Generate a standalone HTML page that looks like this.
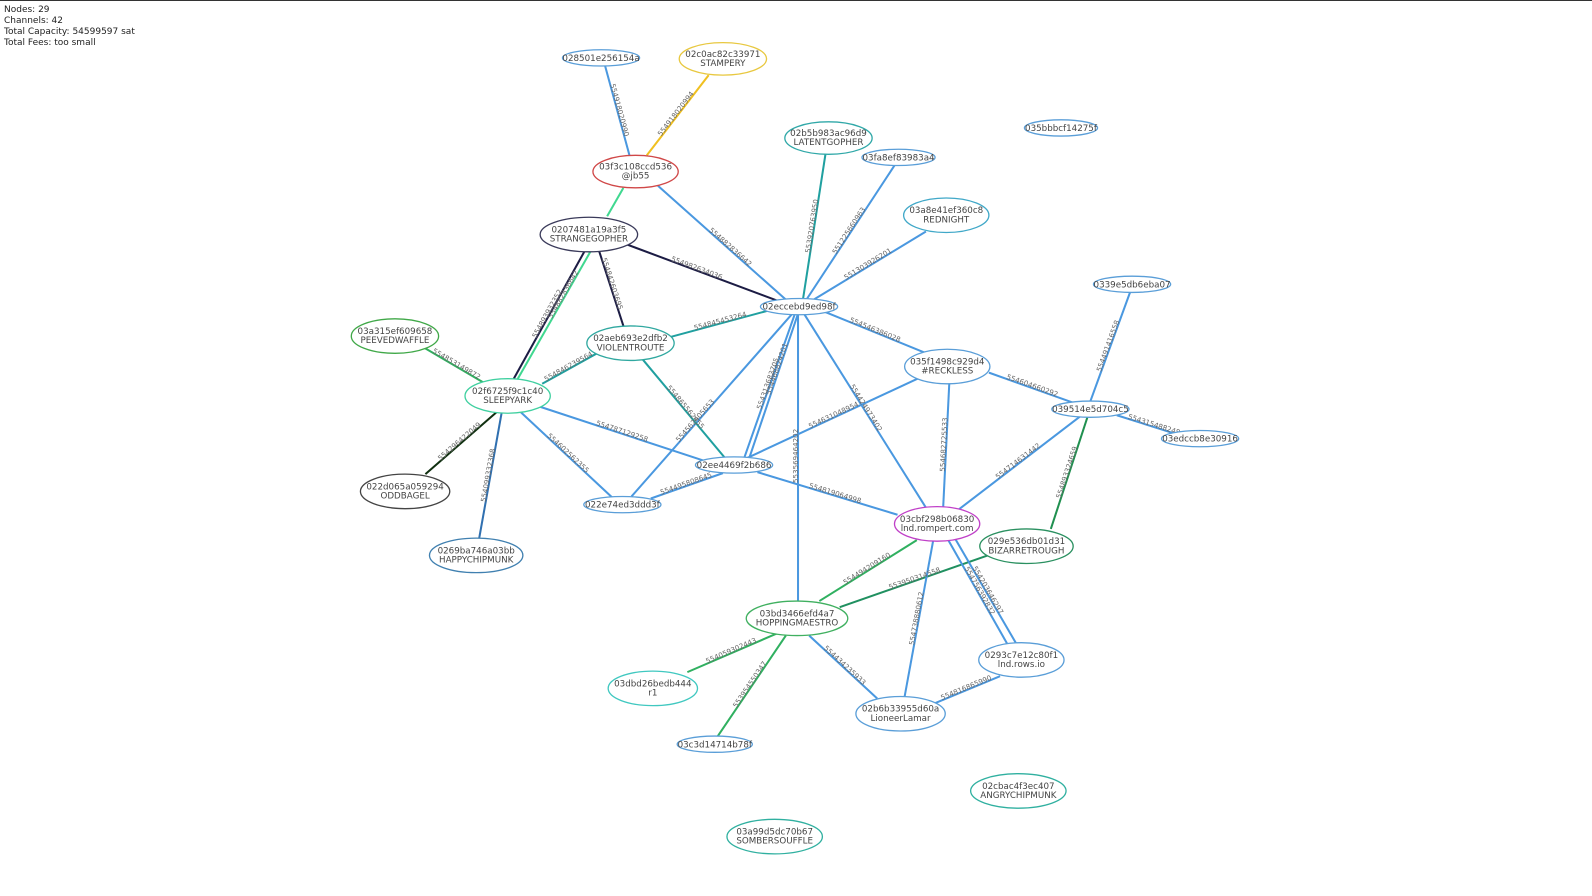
<!DOCTYPE html>
<html><head><meta charset="utf-8"><style>
html,body{margin:0;padding:0;background:#fff;}
body{width:1592px;height:896px;overflow:hidden;position:relative;font-family:"DejaVu Sans","Liberation Sans",sans-serif;}
#info{position:absolute;left:4px;top:5px;font-size:9px;line-height:11px;color:#222;}
#topline{position:absolute;left:0;top:0;width:1592px;height:1px;background:#333;}
svg{position:absolute;left:0;top:0;}
.n text{font-family:"DejaVu Sans","Liberation Sans",sans-serif;font-size:8.6px;fill:#444;text-anchor:middle;}
.l{font-family:"DejaVu Sans",sans-serif;font-size:7px;fill:#666;}
path{fill:none;stroke-width:2;}
.b{stroke:#4a98e0;}
.g{stroke:#30b060;}
.t{stroke:#20a0a0;}
.k{stroke:#1c1c44;}
</style></head><body>
<div id="topline"></div>
<div id="info">Nodes: 29<br>Channels: 42<br>Total Capacity: 54599597 sat<br>Total Fees: too small</div>
<svg width="1592" height="896" viewBox="0 0 1592 896">
<g transform="scale(1.0153)">
<g>
<path id="e1" class="b" d="M596 65 L620 153"/>
<path id="e2" style="stroke:#f0c020" d="M637 153 L698 74"/>
<path id="e3" style="stroke:#40d890" d="M598 213 L614 185"/>
<path id="e4" class="b" d="M648 183 L775 296"/>
<path id="e5" class="k" d="M618 241 L768 297"/>
<path id="e6" class="k" d="M590 247 L614 321"/>
<path id="e7" class="k" d="M506 373 L576 247"/>
<path id="e8" style="stroke:#40d890" d="M510 373 L582 247"/>
<path id="e9" class="t" d="M791 294 L813 152"/>
<path id="e10" class="b" d="M795 294 L881 163"/>
<path id="e11" class="b" d="M800 296 L912 228"/>
<path id="e12" class="t" d="M660 332 L760 305"/>
<path id="e13" class="b" d="M812 307 L910 347"/>
<path id="e14" class="b" d="M733 451 L784 306"/>
<path id="e15" class="b" d="M738 451 L787 306"/>
<path id="e16" class="b" d="M622 489 L783 306"/>
<path id="e17" class="b" d="M790 306 L912 500"/>
<path id="e18" class="b" d="M786 592 L786 306"/>
<path id="e19" class="g" d="M417 342 L480 379"/>
<path id="e20" class="t" d="M534 378 L588 348"/>
<path id="e21" class="t" d="M633 354 L714 451"/>
<path id="e22" class="b" d="M530 400 L694 454"/>
<path id="e23" class="b" d="M513 406 L603 490"/>
<path id="e24" style="stroke:#103010" d="M419 467 L489 406"/>
<path id="e25" style="stroke:#3070b0" d="M472 530 L494 407"/>
<path id="e26" class="b" d="M641 491 L712 466"/>
<path id="e27" class="b" d="M746 465 L884 507"/>
<path id="e28" class="b" d="M736 451 L908 371"/>
<path id="e29" class="b" d="M974 367 L1058 397"/>
<path id="e30" class="b" d="M929 499 L935 377"/>
<path id="e31" class="b" d="M1074 395 L1113 288"/>
<path id="e32" class="b" d="M1100 409 L1160 428"/>
<path id="e33" class="b" d="M944 502 L1064 410"/>
<path id="e34" style="stroke:#209050" d="M1035 521 L1071 411"/>
<path id="e35" class="g" d="M807 592 L903 532"/>
<path id="e36" style="stroke:#209060" d="M827 598 L976 546"/>
<path id="e37" class="b" d="M891 686 L919 533"/>
<path id="e38" class="b" d="M934 532 L992 634"/>
<path id="e39" class="b" d="M941 531 L1001 634"/>
<path id="e40" class="g" d="M677 662 L765 624"/>
<path id="e41" class="g" d="M707 725 L774 626"/>
<path id="e42" class="b" d="M797 626 L864 688"/>
<path id="e43" class="b" d="M920 693 L985 666"/>
</g>
<g class="l">
<text><textPath href="#e1" startOffset="50%" text-anchor="middle">554918020990</textPath></text>
<text><textPath href="#e2" startOffset="50%" text-anchor="middle">554918020994</textPath></text>
<text><textPath href="#e4" startOffset="55%" text-anchor="middle">554882836642</textPath></text>
<text><textPath href="#e5" startOffset="45%" text-anchor="middle">554982634036</textPath></text>
<text><textPath href="#e6" startOffset="45%" text-anchor="middle">554842603695</textPath></text>
<text><textPath href="#e7" startOffset="50%" text-anchor="middle">554893932352</textPath></text>
<text><textPath href="#e8" startOffset="65%" text-anchor="middle">554882836642</textPath></text>
<text><textPath href="#e9" startOffset="50%" text-anchor="middle">553920763950</textPath></text>
<text><textPath href="#e10" startOffset="50%" text-anchor="middle">551225660963</textPath></text>
<text><textPath href="#e11" startOffset="50%" text-anchor="middle">551303926201</textPath></text>
<text><textPath href="#e12" startOffset="50%" text-anchor="middle">554845453264</textPath></text>
<text><textPath href="#e13" startOffset="50%" text-anchor="middle">554546386028</textPath></text>
<text><textPath href="#e14" startOffset="50%" text-anchor="middle">554313683705</textPath></text>
<text><textPath href="#e15" startOffset="60%" text-anchor="middle">554468824201</textPath></text>
<text><textPath href="#e16" startOffset="40%" text-anchor="middle">554562405653</textPath></text>
<text><textPath href="#e17" startOffset="50%" text-anchor="middle">554424973402</textPath></text>
<text><textPath href="#e18" startOffset="50%" text-anchor="middle">553569464202</textPath></text>
<text><textPath href="#e19" startOffset="50%" text-anchor="middle">554853149872</textPath></text>
<text><textPath href="#e20" startOffset="50%" text-anchor="middle">554846239564</textPath></text>
<text><textPath href="#e21" startOffset="50%" text-anchor="middle">554865562455</textPath></text>
<text><textPath href="#e22" startOffset="50%" text-anchor="middle">554787129258</textPath></text>
<text><textPath href="#e23" startOffset="50%" text-anchor="middle">554602562355</textPath></text>
<text><textPath href="#e24" startOffset="50%" text-anchor="middle">554296422049</textPath></text>
<text><textPath href="#e25" startOffset="50%" text-anchor="middle">554099332368</textPath></text>
<text><textPath href="#e26" startOffset="50%" text-anchor="middle">554495808645</textPath></text>
<text><textPath href="#e27" startOffset="55%" text-anchor="middle">554819064998</textPath></text>
<text><textPath href="#e28" startOffset="50%" text-anchor="middle">554631048954</textPath></text>
<text><textPath href="#e29" startOffset="50%" text-anchor="middle">554604660292</textPath></text>
<text><textPath href="#e30" startOffset="50%" text-anchor="middle">554682725533</textPath></text>
<text><textPath href="#e31" startOffset="50%" text-anchor="middle">554491416558</textPath></text>
<text><textPath href="#e32" startOffset="60%" text-anchor="middle">554315488248</textPath></text>
<text><textPath href="#e33" startOffset="50%" text-anchor="middle">554714631442</textPath></text>
<text><textPath href="#e34" startOffset="50%" text-anchor="middle">554893324659</textPath></text>
<text><textPath href="#e35" startOffset="50%" text-anchor="middle">554494209160</textPath></text>
<text><textPath href="#e36" startOffset="50%" text-anchor="middle">553950314558</textPath></text>
<text><textPath href="#e37" startOffset="50%" text-anchor="middle">554738880612</textPath></text>
<text><textPath href="#e38" startOffset="50%" text-anchor="middle">554756392832</textPath></text>
<text><textPath href="#e39" startOffset="50%" text-anchor="middle">554203646297</textPath></text>
<text><textPath href="#e40" startOffset="50%" text-anchor="middle">554059302443</textPath></text>
<text><textPath href="#e41" startOffset="50%" text-anchor="middle">553954550347</textPath></text>
<text><textPath href="#e42" startOffset="50%" text-anchor="middle">554434235933</textPath></text>
<text><textPath href="#e43" startOffset="50%" text-anchor="middle">554816865990</textPath></text>
</g>
<g class="n" fill="#fff" stroke-width="1.3">
<ellipse cx="592" cy="57" rx="38" ry="8" stroke="#5a9ed8"/><text x="592" y="60">028501e256154a</text>
<ellipse cx="712" cy="58" rx="43" ry="16" stroke="#e8c840"/><text x="712" y="56">02c0ac82c33971</text><text x="712" y="65">STAMPERY</text>
<ellipse cx="626" cy="169" rx="42" ry="16" stroke="#d04848"/><text x="626" y="167">03f3c108ccd536</text><text x="626" y="176">@jb55</text>
<ellipse cx="580" cy="231" rx="48" ry="17" stroke="#3a3a5a"/><text x="580" y="229">0207481a19a3f5</text><text x="580" y="238">STRANGEGOPHER</text>
<ellipse cx="816" cy="136" rx="43" ry="16" stroke="#30a8a8"/><text x="816" y="134">02b5b983ac96d9</text><text x="816" y="143">LATENTGOPHER</text>
<ellipse cx="885" cy="155" rx="36" ry="8" stroke="#5a9ed8"/><text x="885" y="158">03fa8ef83983a4</text>
<ellipse cx="1045" cy="126" rx="36" ry="8" stroke="#5a9ed8"/><text x="1045" y="129">035bbbcf14275f</text>
<ellipse cx="932" cy="212" rx="42" ry="17" stroke="#40a8c8"/><text x="932" y="210">03a8e41ef360c8</text><text x="932" y="219">REDNIGHT</text>
<ellipse cx="787" cy="302" rx="38" ry="8" stroke="#5a9ed8"/><text x="787" y="305">02eccebd9ed98f</text>
<ellipse cx="1115" cy="280" rx="38" ry="8" stroke="#5a9ed8"/><text x="1115" y="283">0339e5db6eba07</text>
<ellipse cx="389" cy="331" rx="43" ry="17" stroke="#40a848"/><text x="389" y="329">03a315ef609658</text><text x="389" y="338">PEEVEDWAFFLE</text>
<ellipse cx="621" cy="338" rx="43" ry="17" stroke="#30a8a0"/><text x="621" y="336">02aeb693e2dfb2</text><text x="621" y="345">VIOLENTROUTE</text>
<ellipse cx="933" cy="361" rx="42" ry="17" stroke="#5a9ed8"/><text x="933" y="359">035f1498c929d4</text><text x="933" y="368">#RECKLESS</text>
<ellipse cx="500" cy="390" rx="42" ry="17" stroke="#40d0a0"/><text x="500" y="388">02f6725f9c1c40</text><text x="500" y="397">SLEEPYARK</text>
<ellipse cx="1074" cy="403" rx="38" ry="8" stroke="#5a9ed8"/><text x="1074" y="406">039514e5d704c5</text>
<ellipse cx="1182" cy="432" rx="38" ry="8" stroke="#5a9ed8"/><text x="1182" y="435">03edccb8e30916</text>
<ellipse cx="723" cy="458" rx="38" ry="8" stroke="#5a9ed8"/><text x="723" y="461">02ee4469f2b686</text>
<ellipse cx="399" cy="484" rx="44" ry="17" stroke="#444"/><text x="399" y="482">022d065a059294</text><text x="399" y="491">ODDBAGEL</text>
<ellipse cx="613" cy="497" rx="38" ry="8" stroke="#5a9ed8"/><text x="613" y="500">022e74ed3ddd3f</text>
<ellipse cx="923" cy="516" rx="42" ry="17" stroke="#c040c8"/><text x="923" y="514">03cbf298b06830</text><text x="923" y="523">lnd.rompert.com</text>
<ellipse cx="1011" cy="538" rx="46" ry="17" stroke="#2a9060"/><text x="1011" y="536">029e536db01d31</text><text x="1011" y="545">BIZARRETROUGH</text>
<ellipse cx="469" cy="547" rx="46" ry="17" stroke="#4080b0"/><text x="469" y="545">0269ba746a03bb</text><text x="469" y="554">HAPPYCHIPMUNK</text>
<ellipse cx="785" cy="609" rx="50" ry="17" stroke="#40b060"/><text x="785" y="607">03bd3466efd4a7</text><text x="785" y="616">HOPPINGMAESTRO</text>
<ellipse cx="1006" cy="650" rx="42" ry="17" stroke="#5a9ed8"/><text x="1006" y="648">0293c7e12c80f1</text><text x="1006" y="657">lnd.rows.io</text>
<ellipse cx="643" cy="678" rx="44" ry="17" stroke="#40c8c0"/><text x="643" y="676">03dbd26bedb444</text><text x="643" y="685">r1</text>
<ellipse cx="887" cy="703" rx="44" ry="17" stroke="#5a9ed8"/><text x="887" y="701">02b6b33955d60a</text><text x="887" y="710">LioneerLamar</text>
<ellipse cx="704" cy="733" rx="37" ry="8" stroke="#5a9ed8"/><text x="704" y="736">03c3d14714b78f</text>
<ellipse cx="1003" cy="779" rx="47" ry="17" stroke="#30b0a0"/><text x="1003" y="777">02cbac4f3ec407</text><text x="1003" y="786">ANGRYCHIPMUNK</text>
<ellipse cx="763" cy="824" rx="47" ry="17" stroke="#30b0a0"/><text x="763" y="822">03a99d5dc70b67</text><text x="763" y="831">SOMBERSOUFFLE</text>
</g>
</g>
</svg>
</body></html>
